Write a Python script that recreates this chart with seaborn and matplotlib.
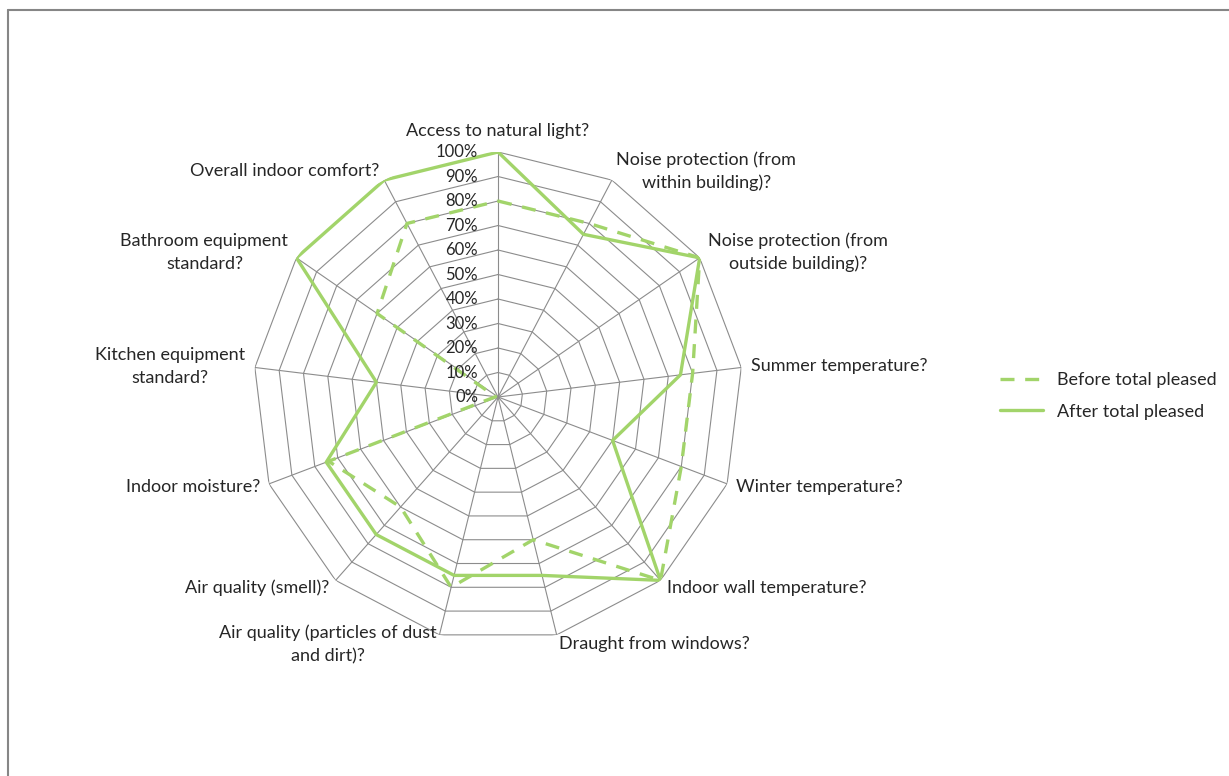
import numpy as np
import pandas as pd
import matplotlib
matplotlib.use("Agg")
import matplotlib.pyplot as plt
import matplotlib.transforms as mtransforms
from matplotlib.lines import Line2D
import seaborn as sns

# Categories (clockwise from top)
categories = [
    "Access to natural light?",
    "Noise protection (from\nwithin building)?",
    "Noise protection (from\noutside building)?",
    "Summer temperature?",
    "Winter temperature?",
    "Indoor wall temperature?",
    "Draught from windows?",
    "Air quality (particles of dust\nand dirt)?",
    "Air quality (smell)?",
    "Indoor moisture?",
    "Kitchen equipment\nstandard?",
    "Bathroom equipment\nstandard?",
    "Overall indoor comfort?",
]
before = [80, 80, 100, 80, 80, 100, 60, 80, 60, 74, 1, 60, 80]
after = [100, 75, 100, 75, 50, 100, 75, 75, 75, 75, 50, 100, 100]
levels = [0, 10, 20, 30, 40, 50, 60, 70, 80, 90, 100]
tick_labels = [f"{v}%" for v in levels]
series_names = ["Before total pleased", "After total pleased"]

green = "#A2D46A"
grid_col = "#8C8C8C"
text_col = "#262626"

sns.set_style("white")
plt.rcParams["font.family"] = ["Lato", "DejaVu Sans"]
plt.rcParams["font.size"] = 13

n = len(categories)
theta = np.arange(n) * 2 * np.pi / n
theta_closed = np.append(theta, 2 * np.pi)

# long-form data for seaborn
df = pd.DataFrame({
    "angle": np.concatenate([theta_closed, theta_closed]),
    "value": before + before[:1] + after + after[:1],
    "series": [series_names[0]] * (n + 1) + [series_names[1]] * (n + 1),
})

fig = plt.figure(figsize=(12.29, 7.76), dpi=100)
ax = fig.add_axes([0.2059, 0.1727, 0.3987, 0.6314], projection="polar")
ax.set_theta_zero_location("N")
ax.set_theta_direction(-1)

# polygon grid
for lvl in levels[1:]:
    ax.plot(theta_closed, [lvl] * (n + 1), color=grid_col, lw=0.8, zorder=1)
for t in theta:
    ax.plot([t, t], [0, 100], color=grid_col, lw=0.8, zorder=1)

sns.lineplot(
    data=df, x="angle", y="value", hue="series", style="series",
    palette={series_names[0]: green, series_names[1]: green},
    dashes={series_names[0]: (4.2, 3.2), series_names[1]: ""},
    linewidth=2.4, sort=False, estimator=None, ax=ax, legend=False, zorder=3,
)

ax.set_ylim(0, 100)
ax.grid(False)
ax.spines["polar"].set_visible(False)
ax.set_xticks([])
ax.set_yticks([])
ax.set_xlabel("")
ax.set_ylabel("")
ax.set_facecolor("none")

# radial tick labels
tick_tr = mtransforms.offset_copy(ax.transData, fig=fig, x=-20, y=0, units="dots")
for lvl, lab in zip(levels, tick_labels):
    ax.text(0, lvl, lab, transform=tick_tr, ha="right", va="center",
            fontsize=12, color=text_col)

# category labels
for t, lab in zip(theta, categories):
    s = np.sin(t)
    if abs(s) < 0.1:
        ha = "center"
    elif s > 0:
        ha = "left"
    else:
        ha = "right"
    if t == 0:
        ax.text(t, 105.5, lab, ha=ha, va="bottom", fontsize=13,
                color=text_col, multialignment="center")
    else:
        ax.text(t, 104, lab, ha=ha, va="center", fontsize=13,
                color=text_col, multialignment="center", linespacing=1.5)

handles = [
    Line2D([], [], color=green, lw=2.4, dashes=(4.2, 3.2)),
    Line2D([], [], color=green, lw=2.4),
]
fig.legend(handles, series_names, loc="center left",
           bbox_to_anchor=(0.8137, 0.4897), frameon=False, fontsize=13,
           handlelength=2.4, handletextpad=0.75, labelspacing=0.85,
           borderpad=0, borderaxespad=0)

# outer chart frame (cropped at right and bottom)
fig.add_artist(Line2D([7.5 / 1229, 1.0], [1 - 9.5 / 776, 1 - 9.5 / 776],
                      transform=fig.transFigure, color="#868686", lw=1.5))
fig.add_artist(Line2D([7.5 / 1229, 7.5 / 1229], [0, 1 - 9.5 / 776],
                      transform=fig.transFigure, color="#868686", lw=1.5))

fig.savefig("out.png", dpi=100)
